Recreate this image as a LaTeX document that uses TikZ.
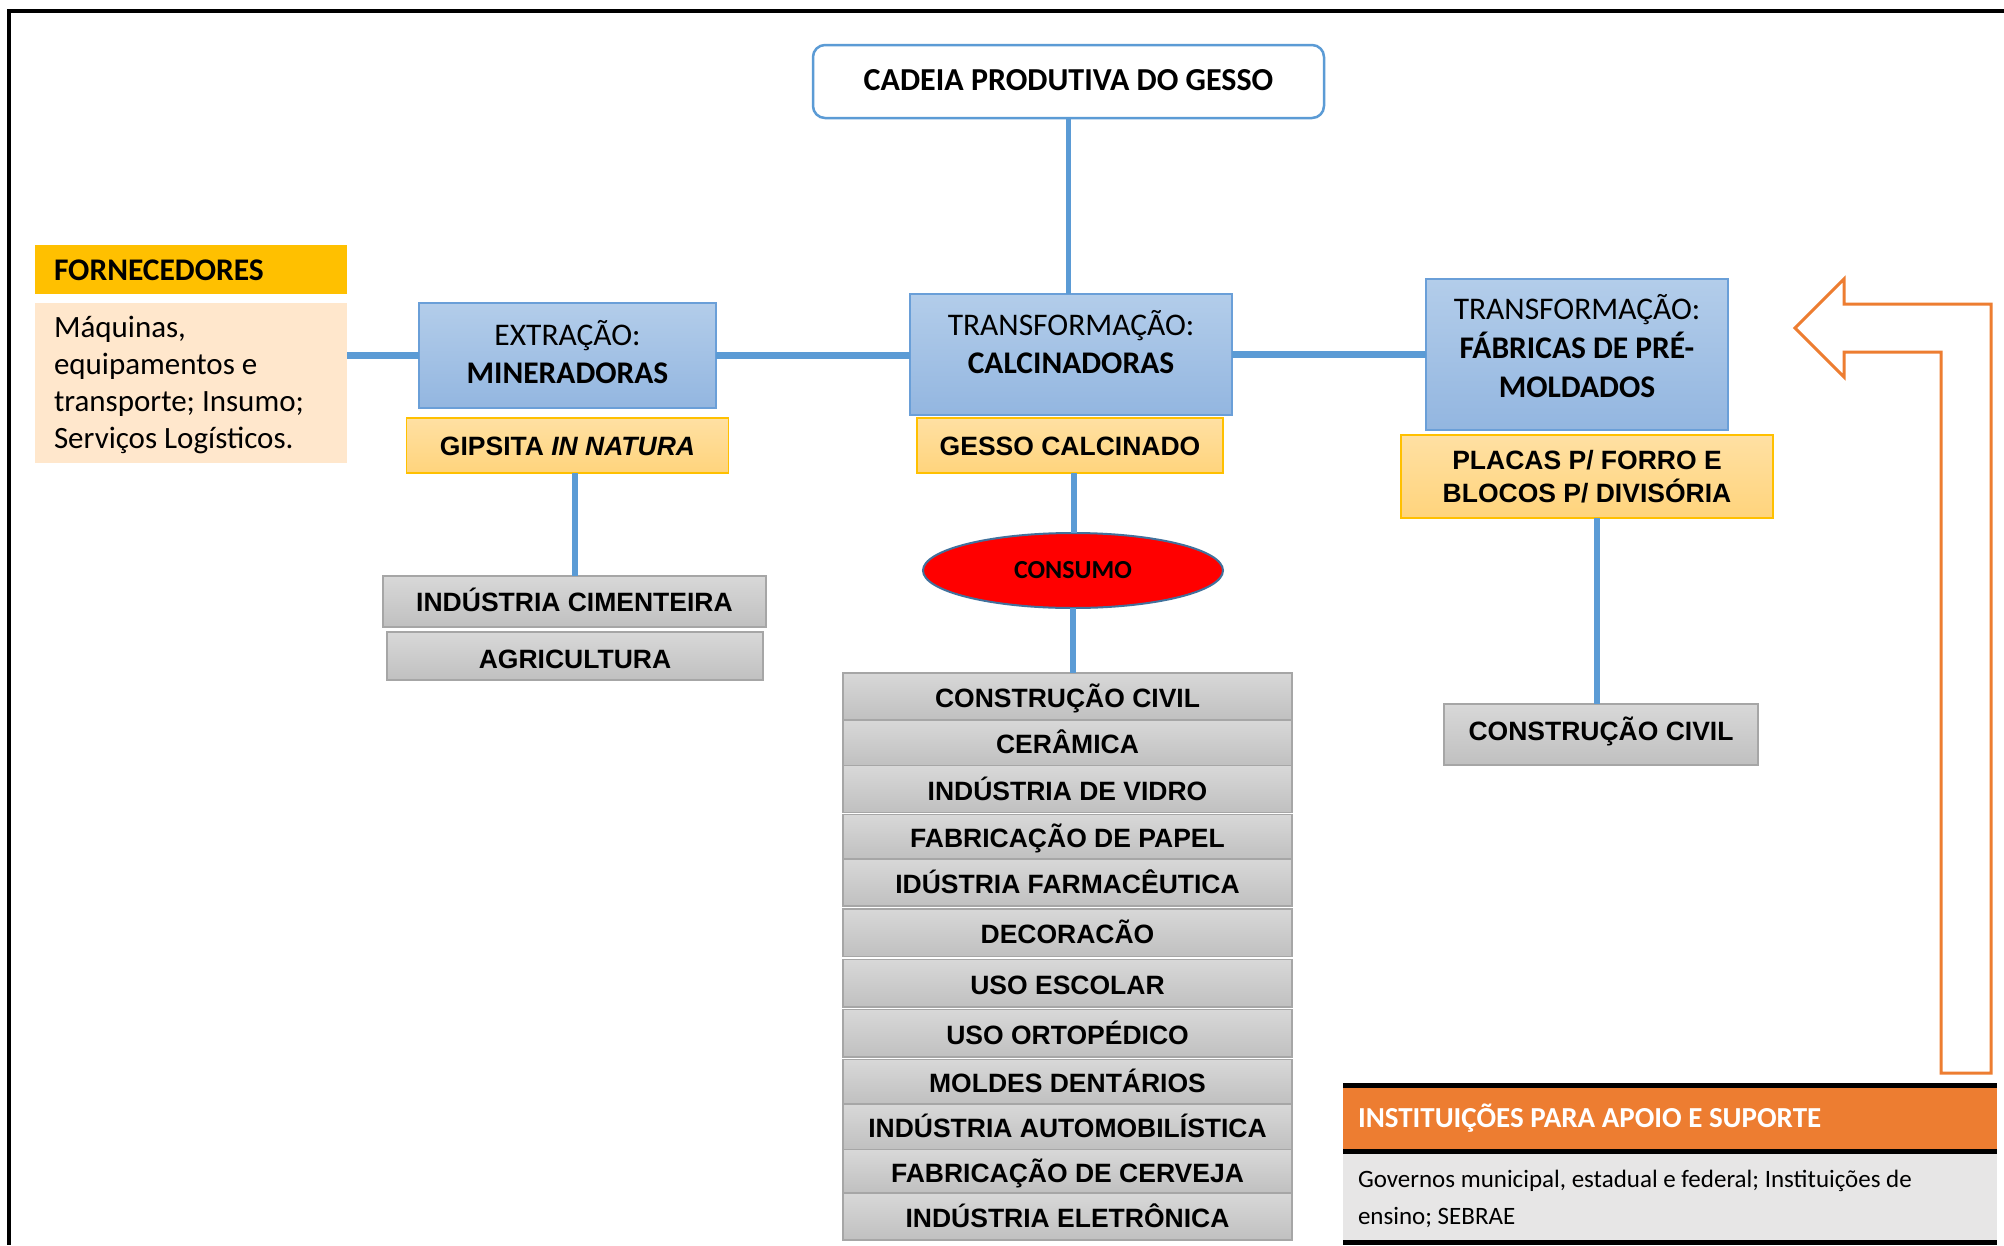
\documentclass[tikz,border=0pt]{standalone}
\usepackage{fontspec}
\setmainfont{Carlito}
\newfontfamily\arialfont{Liberation Sans}
\usetikzlibrary{shapes.geometric}

\definecolor{linkblue}{HTML}{5B9BD5}
\definecolor{stagetop}{HTML}{B3CDEA}
\definecolor{stagebot}{HTML}{93B6E0}
\definecolor{stageedge}{HTML}{6A9FD8}
\definecolor{prodtop}{HTML}{FFE0A3}
\definecolor{prodbot}{HTML}{FFD47C}
\definecolor{prodedge}{HTML}{FFC000}
\definecolor{usetop}{HTML}{D8D8D8}
\definecolor{usebot}{HTML}{C0C0C0}
\definecolor{useedge}{HTML}{A6A6A6}
\definecolor{supplyhead}{HTML}{FFC000}
\definecolor{supplybody}{HTML}{FFE7CC}
\definecolor{instorange}{HTML}{ED7D31}
\definecolor{instgray}{HTML}{E7E6E6}
\definecolor{ellipseedge}{HTML}{41719C}

\begin{document}
\begin{tikzpicture}[x=1pt,y=-1pt,
  every node/.style={inner sep=0pt, outer sep=0pt},
  dims/.style 2 args={minimum width=#1, minimum height=#2},
  stagebox/.style={draw=stageedge, line width=1.5pt, top color=stagetop, bottom color=stagebot},
  stagetext/.style={font=\fontsize{31.5}{38}\selectfont, align=center},
  prodbox/.style={draw=prodedge, line width=1.5pt, top color=prodtop, bottom color=prodbot,
    font=\arialfont\bfseries\fontsize{26.5}{33}\selectfont},
  usebox/.style={draw=useedge, line width=1.5pt, top color=usetop, bottom color=usebot,
    font=\arialfont\bfseries\fontsize{26.5}{32}\selectfont, text height=22pt, text depth=0pt},
  link/.style={draw=linkblue, line width=6pt},
  wlink/.style={draw=linkblue, line width=7pt},
]
\useasboundingbox (0,0) rectangle (2004,1245);
\fill[white] (0,0) rectangle (2004,1245);

% outer frame (top and left edges)
\draw[line width=4pt, line join=miter] (2004,11) -- (9,11) -- (9,1245);

% title
\node[draw=linkblue, line width=2.5pt, rounded corners=12pt, fill=white, dims={511}{73},
  font=\bfseries\fontsize{32}{38}\selectfont, text height=20pt, text depth=2pt]
  (title) at (1068.5,81.5) {CADEIA PRODUTIVA DO GESSO};

% suppliers
\node[fill=supplyhead, dims={312}{49}] (supHead) at (191,269.5) {};
\node[anchor=west, font=\bfseries\fontsize{31.5}{38}\selectfont] (supHeadTxt) at (54,270) {FORNECEDORES};
\node[fill=supplybody, dims={312}{160}] (supBody) at (191,383) {};
\node[anchor=west, align=left, font=\fontsize{31}{37}\selectfont] (supBodyTxt) at (54,385)
  {Máquinas,\\equipamentos e\\transporte; Insumo;\\Serviços Logísticos.};

% production stages
\node[stagebox, dims={297}{105}] (extr) at (567.5,355.5) {};
\node[stagetext] (extrTxt) at (567.5,352) {EXTRAÇÃO:\\\textbf{MINERADORAS}};
\node[stagebox, dims={322}{121}] (calc) at (1071,354.5) {};
\node[stagetext] (calcTxt) at (1071,342) {TRANSFORMAÇÃO:\\\textbf{CALCINADORAS}};
\node[stagebox, dims={302}{151}] (fab) at (1577,354.5) {};
\node[stagetext, font=\fontsize{31.5}{39}\selectfont] (fabTxt) at (1577,346)
  {TRANSFORMAÇÃO:\\\textbf{FÁBRICAS DE PRÉ-}\\\textbf{MOLDADOS}};

% products
\node[prodbox, dims={322}{55}, text height=19pt, text depth=0pt] (gips) at (567.5,445.5)
  {GIPSITA \textit{IN NATURA}};
\node[prodbox, dims={306}{55}, text height=19pt, text depth=0pt] (gesso) at (1070,445.5)
  {GESSO CALCINADO};
\node[prodbox, dims={372}{83}, align=center] (placas) at (1587,476.5)
  {PLACAS P/ FORRO E\\BLOCOS P/ DIVISÓRIA};

% uses of raw gypsum
\node[usebox, dims={383}{51}, text height=19pt] (cim) at (574.5,601.5) {INDÚSTRIA CIMENTEIRA};
\node[usebox, dims={376}{48}, text height=24pt] (agri) at (575,656) {AGRICULTURA};

% consumption
\node[ellipse, draw=ellipseedge, line width=2pt, fill=red, dims={300}{75},
  font=\bfseries\fontsize{26}{30}\selectfont] (consumo) at (1073,570.5) {CONSUMO};

% uses of calcined gypsum
\node[usebox, dims={449}{47}]   (l1)  at (1067.5,696.5)  {CONSTRUÇÃO CIVIL};
\node[usebox, dims={449}{45.5}] (l2)  at (1067.5,742.75) {CERÂMICA};
\node[usebox, dims={449}{47}]   (l3)  at (1067.5,789)    {INDÚSTRIA DE VIDRO};
\node[usebox, dims={449}{44.5}] (l4)  at (1067.5,836.75) {FABRICAÇÃO DE PAPEL};
\node[usebox, dims={449}{47}]   (l5)  at (1067.5,882.5)  {IDÚSTRIA FARMACÊUTICA};
\node[usebox, dims={449}{47.5}] (l6)  at (1067.5,932.75) {DECORACÃO};
\node[usebox, dims={449}{47.5}] (l7)  at (1067.5,983.25) {USO ESCOLAR};
\node[usebox, dims={449}{47.5}] (l8)  at (1067.5,1033.25) {USO ORTOPÉDICO};
\node[usebox, dims={449}{44.5}] (l9)  at (1067.5,1081.75) {MOLDES DENTÁRIOS};
\node[usebox, dims={449}{45.5}] (l10) at (1067.5,1126.75) {INDÚSTRIA AUTOMOBILÍSTICA};
\node[usebox, dims={449}{43.5}] (l11) at (1067.5,1171.25) {FABRICAÇÃO DE CERVEJA};
\node[usebox, dims={449}{47}]   (l12) at (1067.5,1216.5) {INDÚSTRIA ELETRÔNICA};

% uses of precast products
\node[usebox, dims={314}{61}, text height=19pt, text depth=7pt] (cc2) at (1601,734.5) {CONSTRUÇÃO CIVIL};

% connectors
\draw[link, line width=5pt] (title.south) -- (title.south |- calc.north);
\draw[wlink] (supBody.east |- extr.west) -- (extr.west);
\draw[wlink] (extr.east) -- (extr.east -| calc.west);
\draw[wlink] (calc.east) -- (calc.east -| fab.west);
\draw[link] (gips.south -| cim.north) -- (cim.north);
\coordinate (gessoDrop) at ([xshift=4pt]gesso.south);
\draw[link] (gessoDrop) -- (gessoDrop |- consumo.north);
\draw[link] (consumo.south) -- (consumo.south |- l1.north);
\coordinate (placasDrop) at ([xshift=10pt]placas.south);
\draw[link] (placasDrop) -- (placasDrop |- cc2.north);

% support institutions
\node[fill=instorange, dims={654}{66}, anchor=north west] (instHead) at (1343,1085.5) {};
\node[fill=instgray, dims={654}{91}, anchor=north west] (instBody) at (1343,1151.5) {};
\draw[line width=5pt] (instHead.north west) -- (instHead.north east);
\draw[line width=5pt] (instBody.north west) -- (instBody.north east);
\draw[line width=5pt] (instBody.south west) -- (instBody.south east);
\node[anchor=west, text=white, font=\bfseries\fontsize{29}{35}\selectfont] (instHeadTxt)
  at (1358,1118) {INSTITUIÇÕES PARA APOIO E SUPORTE};
\node[anchor=west, align=left, font=\fontsize{25}{37}\selectfont] (instBodyTxt) at (1358,1198.5)
  {Governos municipal, estadual e federal; Instituições de\\ensino; SEBRAE};

% support feedback arrow
\draw[instorange, line width=3pt, line join=miter]
  (1991,304) -- (1991,1073) -- (1941,1073) -- (1941,352) -- (1844,352) -- (1844,377)
  -- (1795,328) -- (1844,279) -- (1844,304) -- cycle;
\end{tikzpicture}
\end{document}
